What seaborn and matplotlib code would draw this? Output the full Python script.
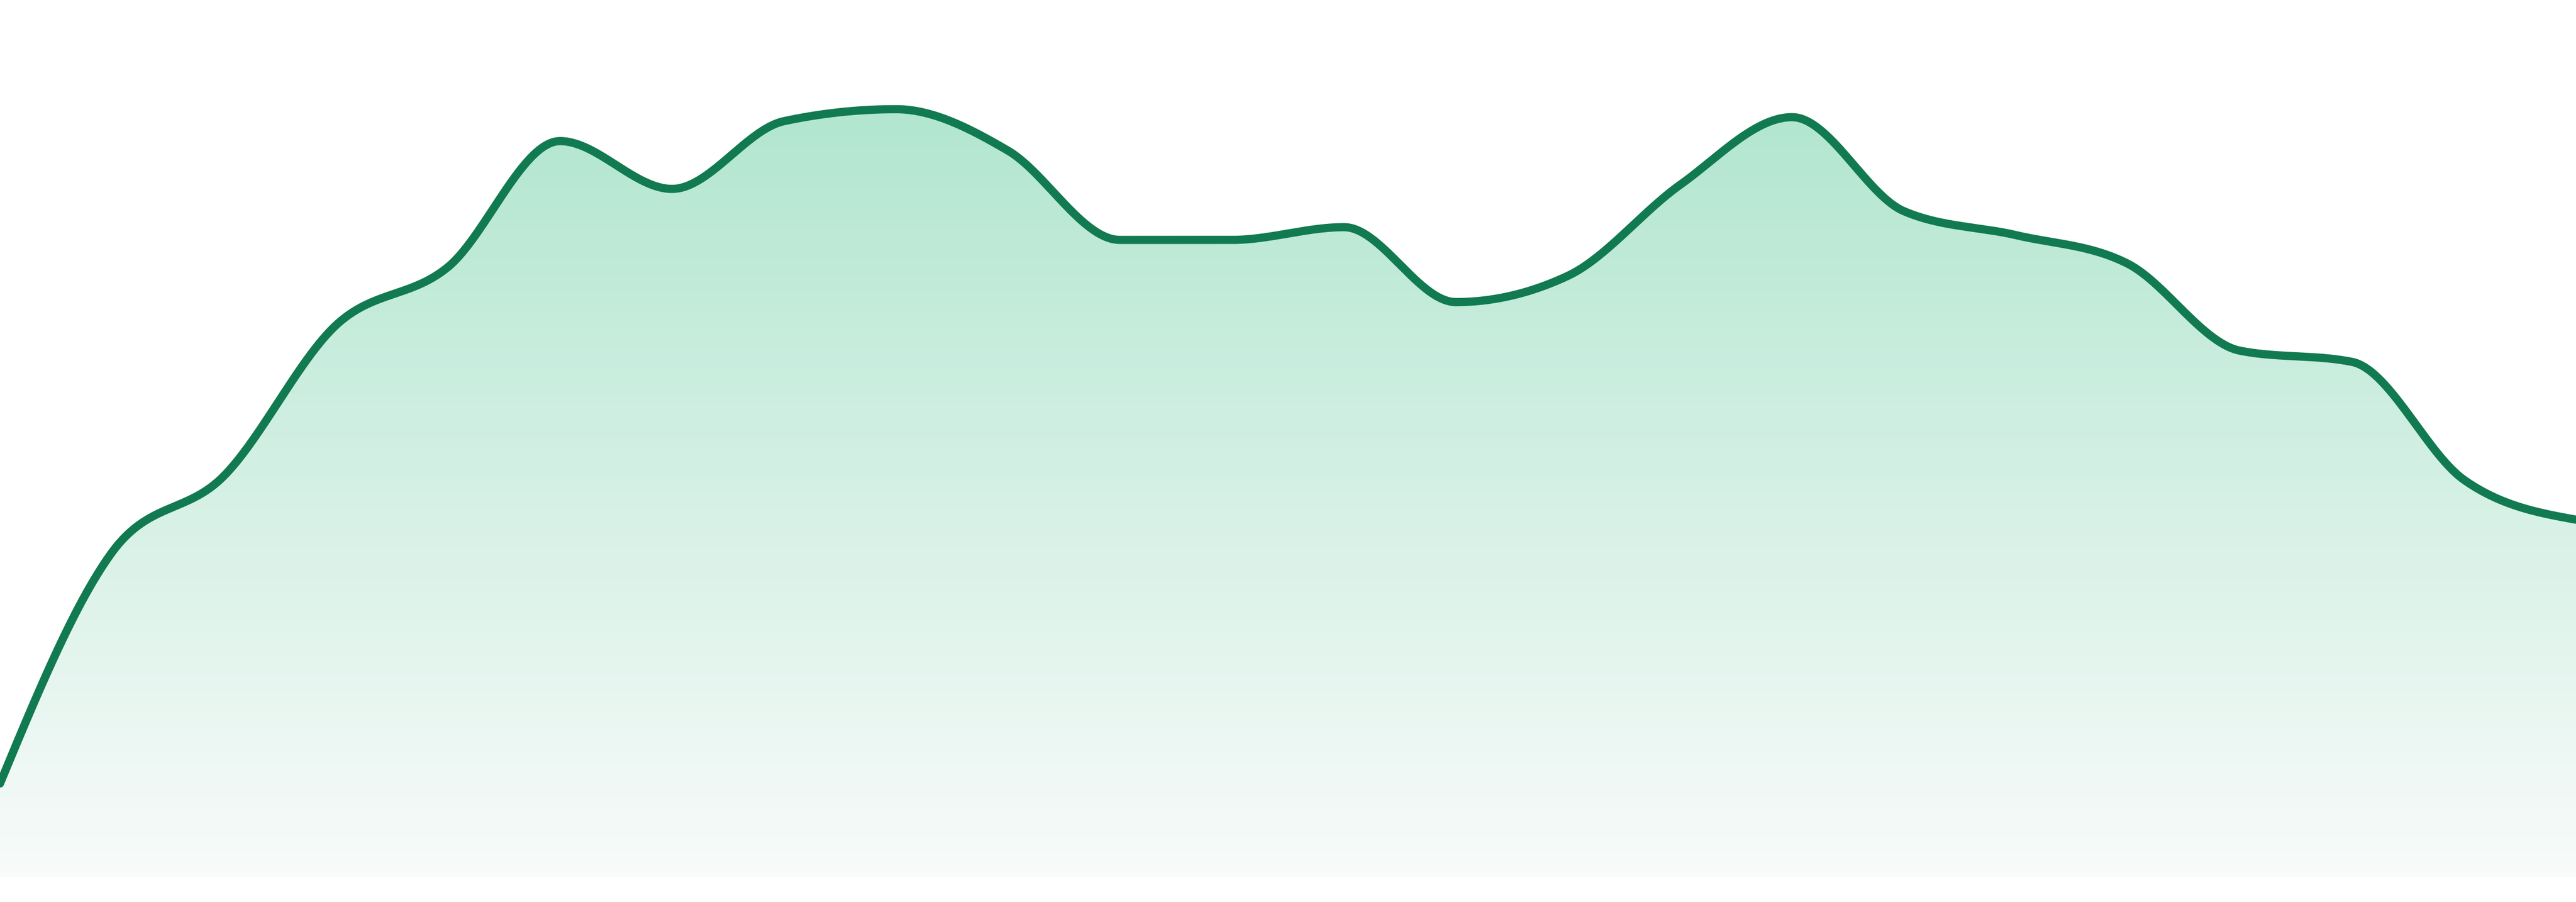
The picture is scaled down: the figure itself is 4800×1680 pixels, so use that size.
import numpy as np
import pandas as pd
import seaborn as sns
import matplotlib.pyplot as plt
from matplotlib.colors import LinearSegmentedColormap

# one value per step
steps = list(range(24))
values = [11.7, 40.7, 50.3, 69.2, 76.5, 92.3, 86.3, 94.8, 96.3, 91.1, 79.9, 79.9,
          81.5, 72.1, 75.4, 86.8, 95.3, 83.5, 80.5, 76.9, 66.0, 64.6, 49.8, 44.8]

line_color = "#117a50"
fill_top = "#a8e3ca"
fill_bottom = "#f8fbfa"


def monotone_curve(x, y, n=60):
    # monotone cubic (same rule as d3 curveMonotoneX), only for drawing
    x = np.asarray(x, float)
    y = np.asarray(y, float)
    h = np.diff(x)
    s = np.diff(y) / h
    t = np.zeros(len(x))
    for i in range(1, len(x) - 1):
        p = (s[i - 1] * h[i] + s[i] * h[i - 1]) / (h[i - 1] + h[i])
        t[i] = (np.sign(s[i - 1]) + np.sign(s[i])) * min(abs(s[i - 1]), abs(s[i]), 0.5 * abs(p))
    t[0] = (3 * s[0] - t[1]) / 2
    t[-1] = (3 * s[-1] - t[-2]) / 2
    xs, ys = [], []
    for i in range(len(x) - 1):
        u = np.linspace(0, 1, n, endpoint=(i == len(x) - 2))
        h00 = 2 * u**3 - 3 * u**2 + 1
        h10 = u**3 - 2 * u**2 + u
        h01 = -2 * u**3 + 3 * u**2
        h11 = u**3 - u**2
        xs.append(x[i] + u * h[i])
        ys.append(h00 * y[i] + h10 * h[i] * t[i] + h01 * y[i + 1] + h11 * h[i] * t[i + 1])
    return np.concatenate(xs), np.concatenate(ys)


sx, sy = monotone_curve(steps, values)
curve = pd.DataFrame({"step": sx, "value": sy})

sns.set_theme(style="white")
fig = plt.figure(figsize=(48, 16.8), dpi=100)
ax = fig.add_axes([0, 47 / 1680, 1, 1633 / 1680])

# gradient area under the line
area = ax.fill_between(curve["step"], curve["value"], 0, facecolor="none", edgecolor="none")
cmap = LinearSegmentedColormap.from_list("fade", [fill_bottom, fill_top])
grad = np.linspace(0, 1, 256).reshape(-1, 1)
im = ax.imshow(grad, cmap=cmap, origin="lower", aspect="auto",
               extent=[0, 23, 0, 110], interpolation="bicubic", zorder=1)
im.set_clip_path(area.get_paths()[0], transform=ax.transData)

sns.lineplot(data=curve, x="step", y="value", sort=False, estimator=None,
             color=line_color, linewidth=11, ax=ax, zorder=3)
ax.set_xlim(0, 23)
ax.set_ylim(0, 110)
ax.axis("off")

fig.savefig("out.png", dpi=100, facecolor="white")
